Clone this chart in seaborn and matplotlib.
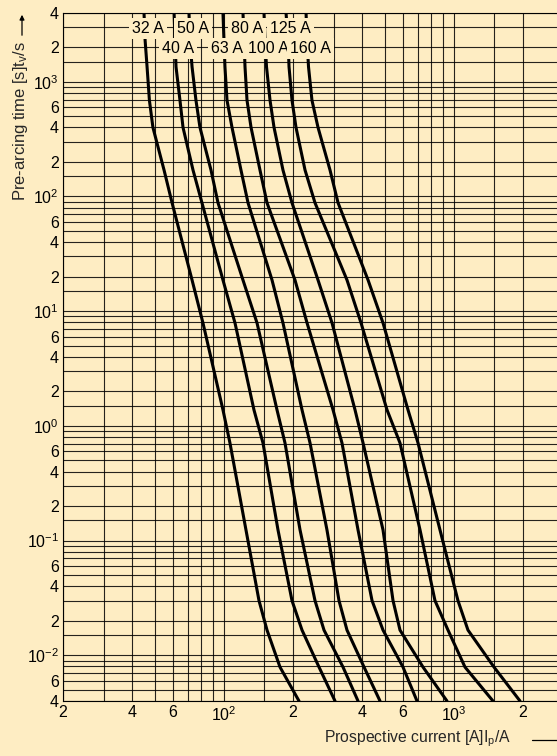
import numpy as np
import pandas as pd
import matplotlib
matplotlib.use("Agg")
import matplotlib.pyplot as plt
from matplotlib.ticker import FixedLocator, FixedFormatter, NullFormatter
from matplotlib.patches import FancyArrowPatch
from matplotlib.lines import Line2D
import seaborn as sns

# ---------------- data ----------------
ratings = ['32 A', '40 A', '50 A', '63 A', '80 A', '100 A', '125 A', '160 A']
t_pre = [4000, 2300, 1350, 690, 400, 170, 88, 18.7, 7.9, 1.38, 0.71, 0.124, 0.030, 0.0166, 0.0079, 0.004]
i_32 = [45.0, 45.5, 46.4, 47.5, 49.2, 55.0, 59.6, 72.8, 81.2, 99.2, 106.4, 124.9, 142.3, 154.2, 175.6, 212.4]
i_40 = [60.8, 61.4, 62.0, 64.5, 66.5, 73.5, 80.4, 99.2, 111.9, 135.3, 148.1, 172.1, 198.0, 218.9, 259.5, 304.6]
i_50 = [70.6, 71.3, 72.8, 75.7, 78.8, 88.0, 94.4, 121.2, 139.5, 170.4, 184.6, 214.6, 249.3, 272.8, 330.0, 383.5]
i_63 = [99.2, 100.2, 101.2, 103.3, 108.6, 118.8, 127.5, 162.1, 180.9, 218.9, 237.2, 281.0, 317.0, 343.4, 407.3, 477.9]
i_80 = [121.2, 122.5, 123.7, 126.2, 131.4, 143.7, 154.2, 204.0, 230.2, 298.6, 326.6, 383.5, 441.3, 492.5, 601.6, 692.1]
i_100 = [149.6, 151.1, 153.4, 158.9, 165.4, 180.9, 198.0, 256.9, 295.6, 372.1, 403.3, 492.5, 544.4, 583.8, 735.0, 934.4]
i_125 = [186.5, 190.3, 192.2, 198.0, 206.1, 225.6, 249.3, 343.4, 395.2, 512.6, 583.8, 713.4, 828.6, 943.9, 1119, 1481]
i_160 = [227.9, 230.2, 233.6, 241.8, 256.9, 289.7, 314.0, 424.0, 492.5, 632.5, 699.2, 871.2, 1043, 1153, 1496, 1941]
currents = [i_32, i_40, i_50, i_63, i_80, i_100, i_125, i_160]
label_rows_t = [3000, 2000]  # times of the two label rows

x_ticks = [20, 40, 60, 100, 200, 400, 600, 1000, 2000]
x_ticklabels = ['2', '4', '6', r'$\mathregular{10^{2}}$', '2', '4', '6', r'$\mathregular{10^{3}}$', '2']
y_ticks = [0.004, 0.006, 0.01, 0.02, 0.04, 0.06, 0.1, 0.2, 0.4, 0.6, 1, 2, 4, 6,
           10, 20, 40, 60, 100, 200, 400, 600, 1000, 2000, 4000]
y_ticklabels = ['4', '6', r'$\mathregular{10^{-2}}$', '2', '4', '6', r'$\mathregular{10^{-1}}$',
                '2', '4', '6', r'$\mathregular{10^{0}}$', '2', '4', '6', r'$\mathregular{10^{1}}$',
                '2', '4', '6', r'$\mathregular{10^{2}}$', '2', '4', '6', r'$\mathregular{10^{3}}$',
                '2', '4']
grid_mult = [1, 1.5, 2, 3, 4, 5, 6, 7, 8, 9]

x_label = r'Prospective current [A]I$_\mathregular{p}$/A'
y_label = r'Pre-arcing time [s]t$_\mathregular{v}$/s'

# ---------------- style ----------------
BG = '#FEEDC3'
sns.set_style('white')
plt.rcParams['font.family'] = ['Liberation Sans', 'DejaVu Sans']
plt.rcParams['mathtext.default'] = 'regular'

W, H = 557, 756
fig = plt.figure(figsize=(W / 100, H / 100), dpi=100, facecolor=BG)
x0, y_top, y_bot = 63, 12.7, 701
ax = fig.add_axes([x0 / W, 1 - y_bot / H, (W - x0) / W, (y_bot - y_top) / H])
ax.set_facecolor(BG)

df = pd.concat([pd.DataFrame({'rating': r, 'current': c, 'time': t_pre})
                for r, c in zip(ratings, currents)], ignore_index=True)

sns.lineplot(data=df, x='current', y='time', hue='rating', hue_order=ratings,
             palette=['black'] * len(ratings), estimator=None, sort=False,
             legend=False, lw=2.2, ax=ax, zorder=3)

ax.set_xscale('log')
ax.set_yscale('log')
ax.set_xlim(20, 20 * 10 ** ((W - x0) / 230))
ax.set_ylim(0.004, 4000)

minor_x = [m * 10 ** k for k in range(1, 4) for m in grid_mult]
minor_y = [m * 10 ** k for k in range(-3, 4) for m in grid_mult]
ax.xaxis.set_major_locator(FixedLocator(x_ticks))
ax.xaxis.set_major_formatter(FixedFormatter(x_ticklabels))
ax.xaxis.set_minor_locator(FixedLocator(minor_x))
ax.xaxis.set_minor_formatter(NullFormatter())
ax.yaxis.set_major_locator(FixedLocator(y_ticks))
ax.yaxis.set_major_formatter(FixedFormatter(y_ticklabels))
ax.yaxis.set_minor_locator(FixedLocator(minor_y))
ax.yaxis.set_minor_formatter(NullFormatter())
ax.grid(which='both', color='black', lw=0.8, alpha=0.85)
ax.tick_params(which='both', length=0, labelsize=11.5, colors='black', pad=3)
ax.set_xlabel('')
ax.set_ylabel('')

for s in ['left', 'bottom', 'top']:
    ax.spines[s].set_color('black')
    ax.spines[s].set_linewidth(0.8)
ax.spines['right'].set_visible(False)

# curve labels in two rows
for k, (r, c) in enumerate(zip(ratings, currents)):
    ax.annotate(r, xy=(c[0], label_rows_t[k % 2]), xytext=(3, 0),
                textcoords='offset points', ha='center', va='center_baseline',
                fontsize=11.5, color='black', zorder=6,
                bbox=dict(boxstyle='square,pad=0.2', fc=BG, ec='none'))

# axis titles with arrows
fig.text(511 / W, 1 - 739 / H, x_label, ha='right', va='center', fontsize=11.3)
fig.add_artist(Line2D([532 / W, 1.0], [1 - 740 / H, 1 - 740 / H],
                      transform=fig.transFigure, color='black', lw=0.9))
fig.text(21 / W, 1 - 41 / H, y_label, rotation=90, ha='center', va='top', fontsize=12)
fig.add_artist(FancyArrowPatch((22 / W, 1 - 38 / H), (22 / W, 1 - 12 / H),
                               transform=fig.transFigure, arrowstyle='-|>',
                               mutation_scale=7, lw=0.9, color='black'))

fig.savefig('out.png', dpi=100, facecolor=BG)
